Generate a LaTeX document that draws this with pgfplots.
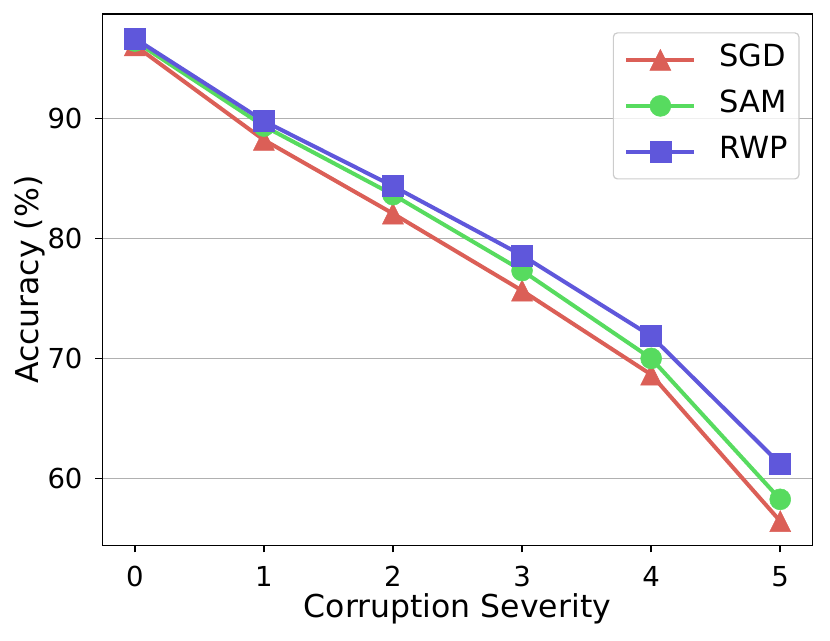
\documentclass[border=0pt]{standalone}
\usepackage{pgfplots}
\pgfplotsset{compat=1.18}
\usepackage{fontspec}
\setmainfont{DejaVu Sans}
\definecolor{csgd}{HTML}{DB5F57}
\definecolor{csam}{HTML}{57DB5F}
\definecolor{crwp}{HTML}{5F57DB}
\definecolor{cgrid}{HTML}{B0B0B0}
\pgfdeclareplotmark{mtri}{%
  \pgfpathmoveto{\pgfqpoint{0pt}{\pgfplotmarksize}}%
  \pgfpathlineto{\pgfqpoint{-\pgfplotmarksize}{-\pgfplotmarksize}}%
  \pgfpathlineto{\pgfqpoint{\pgfplotmarksize}{-\pgfplotmarksize}}%
  \pgfpathclose
  \pgfusepathqfillstroke}
\begin{document}
\begin{tikzpicture}
\begin{axis}[
  at={(0,0)}, anchor=south west,
  scale only axis, width=710pt, height=531pt,
  xmin=-0.25, xmax=5.25, ymin=54.42, ymax=98.68,
  xtick={0,1,2,3,4,5}, ytick={60,70,80,90},
  ymajorgrids, grid style={line width=1.5pt, color=cgrid},
  axis line style={line width=1.6pt},
  tick align=outside, major tick length=7pt,
  tick style={line width=1.6pt, black},
  xtick pos=bottom, ytick pos=left,
  /pgf/number format/assume math mode=true,
  ticklabel style={font=\fontsize{27.5}{33}\selectfont},
  xticklabel style={inner sep=0pt, anchor=north, yshift=-13.6pt},
  yticklabel style={inner sep=0pt, anchor=east, xshift=-12.8pt},
  xlabel={Corruption Severity},
  ylabel={Accuracy (\%)},
  label style={font=\fontsize{31.5}{38}\selectfont},
  xlabel style={at={(axis description cs:0.5,-0.119)}, anchor=center},
  ylabel style={at={(axis description cs:-0.1025,0.5)}, anchor=center, rotate=0},
  legend style={at={(rel axis cs:1,1)}, xshift=-13pt, yshift=-18pt, anchor=north east,
    draw=black!20, rounded corners=4pt, fill=white, fill opacity=0.8, text opacity=1, draw opacity=1,
    line width=1.2pt, font=\fontsize{30.5}{36}\selectfont,
    inner xsep=11pt, inner ysep=12pt, row sep=16pt, column sep=23pt,
    nodes={inner sep=0pt, text height=22pt, text depth=8pt}},
  legend cell align=left,
  legend image code/.code={\draw[#1, fill opacity=1, mark repeat=2, mark phase=2] plot coordinates {(0pt,0pt) (34pt,0pt) (68pt,0pt)};},
]
\addplot[color=csgd, line width=4pt, mark=mtri, mark size=10.5pt, mark options={solid, fill=csgd, draw=csgd, line width=0.5pt, fill opacity=1}]
  coordinates {(0,96.09) (1,88.21) (2,82.07) (3,75.65) (4,68.65) (5,56.43)};
\addlegendentry{SGD}
\addplot[color=csam, line width=4pt, mark=*, mark size=10.5pt, mark options={solid, fill=csam, draw=csam, line width=0.5pt, fill opacity=1}]
  coordinates {(0,96.45) (1,89.36) (2,83.65) (3,77.32) (4,70.00) (5,58.25)};
\addlegendentry{SAM}
\addplot[color=crwp, line width=4pt, mark=square*, mark size=10.5pt, mark options={solid, fill=crwp, draw=crwp, line width=0.5pt, fill opacity=1}]
  coordinates {(0,96.67) (1,89.78) (2,84.36) (3,78.59) (4,71.86) (5,61.19)};
\addlegendentry{RWP}
\end{axis}
\pgfresetboundingbox
\useasboundingbox (-102.5pt,-94.7pt) rectangle (727.5pt,545.3pt);
\end{tikzpicture}
\end{document}
